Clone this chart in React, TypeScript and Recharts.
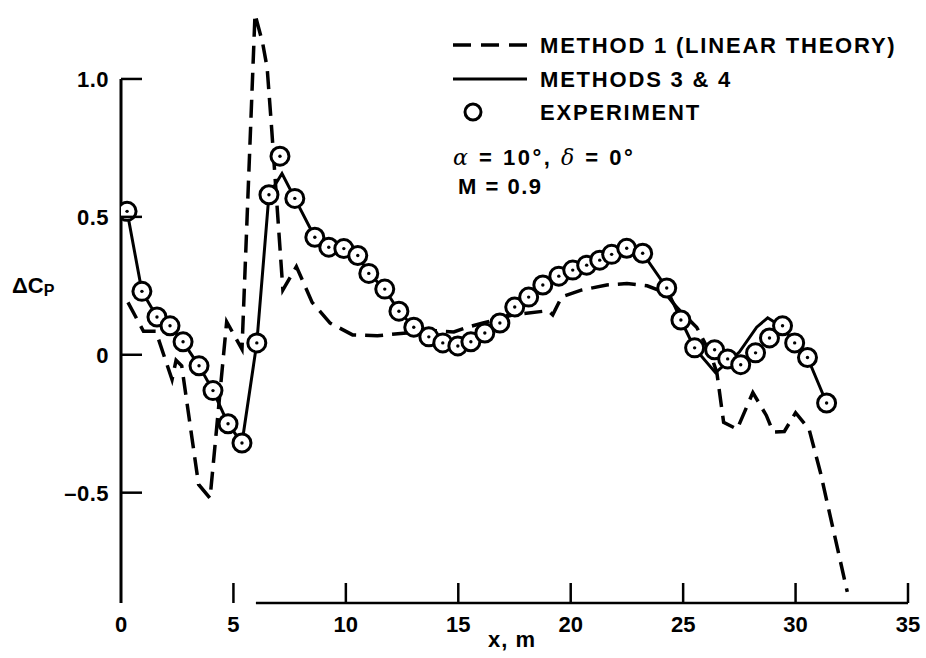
import { ComposedChart, Line, Scatter, XAxis, YAxis, ReferenceLine } from 'recharts';

// experiment (circles)
const expX = [0.27, 0.93, 1.6, 2.18, 2.76, 3.47, 4.09, 4.76, 5.38, 6.04, 6.58, 7.07, 7.73, 8.62, 9.24, 9.91, 10.53, 11.02, 11.73, 12.36, 13.02, 13.69, 14.31, 14.98, 15.56, 16.18, 16.85, 17.51, 18.13, 18.76, 19.47, 20.09, 20.71, 21.29, 21.82, 22.49, 23.2, 24.27, 24.9, 25.51, 26.4, 26.98, 27.56, 28.22, 28.84, 29.42, 29.96, 30.53, 31.38];
const expY = [0.52, 0.23, 0.137, 0.105, 0.047, -0.04, -0.13, -0.25, -0.32, 0.043, 0.58, 0.72, 0.567, 0.426, 0.39, 0.385, 0.36, 0.295, 0.238, 0.158, 0.1, 0.065, 0.043, 0.032, 0.047, 0.079, 0.115, 0.173, 0.209, 0.253, 0.285, 0.307, 0.325, 0.343, 0.364, 0.386, 0.368, 0.242, 0.126, 0.025, 0.018, -0.015, -0.036, 0.007, 0.061, 0.105, 0.043, -0.01, -0.175];

// methods 3 & 4 (solid)
const m34X = [0.27, 0.93, 1.6, 2.18, 2.76, 3.47, 4.09, 4.76, 5.38, 6.04, 6.58, 7.16, 7.73, 8.62, 9.24, 9.91, 10.53, 11.02, 11.73, 12.36, 13.02, 13.69, 14.31, 14.98, 15.56, 16.18, 16.85, 17.51, 18.13, 18.76, 19.47, 20.09, 20.71, 21.29, 21.82, 22.49, 23.2, 24.27, 24.9, 25.5, 26.44, 27.5, 28.27, 28.76, 29.42, 29.96, 30.53, 31.38];
const m34Y = [0.52, 0.23, 0.137, 0.105, 0.047, -0.04, -0.13, -0.25, -0.32, 0.043, 0.58, 0.657, 0.567, 0.426, 0.39, 0.385, 0.36, 0.295, 0.238, 0.158, 0.1, 0.065, 0.043, 0.032, 0.047, 0.079, 0.115, 0.173, 0.209, 0.253, 0.285, 0.307, 0.325, 0.343, 0.364, 0.386, 0.368, 0.242, 0.126, 0.025, -0.065, 0.01, 0.1, 0.134, 0.1, 0.043, -0.01, -0.175];

// method 1, linear theory (dashed)
const m1X = [0.31, 1.0, 1.55, 2.27, 2.45, 2.7, 3.45, 3.96, 4.7, 5.38, 5.96, 6.3, 6.5, 6.7, 7.2, 7.8, 8.5, 9.3, 10.3, 11.4, 12.7, 14.0, 14.8, 15.4, 16.1, 17.4, 19.0, 19.2, 19.6, 20.5, 21.6, 22.5, 23.4, 24.2, 24.7, 25.6, 26.2, 26.5, 26.8, 27.4, 28.1, 28.7, 29.0, 29.5, 30.0, 30.6, 31.1, 32.3];
const m1Y = [0.19, 0.085, 0.085, -0.09, -0.02, -0.04, -0.47, -0.52, 0.12, 0.02, 1.235, 1.13, 1.04, 0.82, 0.235, 0.32, 0.19, 0.115, 0.072, 0.069, 0.079, 0.087, 0.083, 0.1, 0.115, 0.144, 0.16, 0.145, 0.21, 0.235, 0.253, 0.258, 0.25, 0.225, 0.173, 0.1, 0.007, -0.065, -0.245, -0.27, -0.137, -0.22, -0.28, -0.278, -0.21, -0.27, -0.425, -0.86];

const xTicks = [0, 5, 10, 15, 20, 25, 30, 35];
const yTicks = [-0.5, 0, 0.5, 1.0];

const toPoints = (xs: number[], ys: number[]) => xs.map((x, i) => ({ x, y: ys[i] }));

const expData = toPoints(expX, expY);
const m34Data = toPoints(m34X, m34Y);
const m1Data = toPoints(m1X, m1Y);

const FONT = '"Liberation Sans", Arial, sans-serif';

const XTick = ({ x, y, payload }: any) => (
  <g>
    {payload.value !== 0 && <line x1={x} x2={x} y1={y} y2={y - 20} stroke="#000" strokeWidth={2.5} />}
    <text x={x} y={y + 29} textAnchor="middle" fontFamily={FONT} fontWeight="bold" fontSize={22} fill="#000">
      {payload.value}
    </text>
  </g>
);

const YTick = ({ x, y, payload }: any) => {
  const v = payload.value;
  const label = v === 0 ? '0' : v < 0 ? '\u2013' + Math.abs(v).toFixed(1) : v.toFixed(1);
  return (
    <g>
      <line x1={x} x2={x + 21} y1={y} y2={y} stroke="#000" strokeWidth={2.5} />
      <text x={x - 12} y={y + 8} textAnchor="end" fontFamily={FONT} fontWeight="bold" fontSize={22} letterSpacing={0.5} fill="#000">
        {label}
      </text>
    </g>
  );
};

const Ring = ({ cx, cy }: any) => (
  <g>
    <circle cx={cx} cy={cy} r={9} fill="#fff" stroke="#000" strokeWidth={3} />
    <circle cx={cx} cy={cy} r={1.7} fill="#000" />
  </g>
);

const textStyle = { fontFamily: FONT, fontWeight: 'bold' as const, fontSize: 22, letterSpacing: 1.8 };

const Overlay = () => (
  <svg width={926} height={658} style={{ position: 'absolute', left: 0, top: 0, pointerEvents: 'none' }}>
    {/* legend */}
    <line x1={453} x2={527} y1={45} y2={45} stroke="#000" strokeWidth={3.5} strokeDasharray="18 10" />
    <text x={540} y={53} {...textStyle}>METHOD 1 (LINEAR THEORY)</text>
    <line x1={453} x2={527} y1={79} y2={79} stroke="#000" strokeWidth={3} />
    <text x={540} y={87} {...textStyle}>METHODS 3 &amp; 4</text>
    <circle cx={473} cy={112} r={8} fill="#fff" stroke="#000" strokeWidth={3} />
    <text x={540} y={120} {...textStyle}>EXPERIMENT</text>
    <text x={453} y={165} {...textStyle} letterSpacing={2.5}>
      <tspan fontStyle="italic" fontWeight="normal" fontFamily='"DejaVu Serif", serif'>α</tspan> = 10°,{' '}
      <tspan fontStyle="italic" fontWeight="normal" fontFamily='"DejaVu Serif", serif'>δ</tspan> = 0°
    </text>
    <text x={458} y={194} {...textStyle} letterSpacing={1.5}>M = 0.9</text>
    {/* axis titles */}
    <text x={12} y={293} {...textStyle} letterSpacing={0}>
      ΔC<tspan fontSize={16} dy={3}>P</tspan>
    </text>
    <text x={512} y={647} textAnchor="middle" {...textStyle} letterSpacing={1}>x, m</text>
  </svg>
);

export default function App() {
  return (
    <div style={{ position: 'absolute', left: 0, top: 0, width: 926, height: 658, background: '#fff' }}>
      <ComposedChart width={926} height={658} margin={{ top: 10, right: 18, left: 61, bottom: 15 }}>
        <XAxis
          type="number"
          dataKey="x"
          domain={[0, 35]}
          ticks={xTicks}
          axisLine={false}
          tickLine={false}
          tickSize={0}
          tickMargin={0}
          height={40}
          tick={<XTick />}
          allowDataOverflow
        />
        <YAxis
          type="number"
          dataKey="y"
          domain={[-0.9, 1.25]}
          ticks={yTicks}
          axisLine={false}
          tickLine={false}
          tickSize={0}
          tickMargin={0}
          width={60}
          tick={<YTick />}
          allowDataOverflow
        />
        <ReferenceLine segment={[{ x: 0, y: -0.9 }, { x: 0, y: 1.0 }]} stroke="#000" strokeWidth={3} />
        <ReferenceLine segment={[{ x: 6, y: -0.9 }, { x: 35, y: -0.9 }]} stroke="#000" strokeWidth={2.5} />
        <Line
          data={m1Data}
          dataKey="y"
          type="linear"
          stroke="#000"
          strokeWidth={3.5}
          strokeDasharray="18 9"
          dot={false}
          activeDot={false}
          isAnimationActive={false}
        />
        <Line
          data={m34Data}
          dataKey="y"
          type="linear"
          stroke="#000"
          strokeWidth={3}
          dot={false}
          activeDot={false}
          isAnimationActive={false}
        />
        <Scatter data={expData} dataKey="y" shape={<Ring />} isAnimationActive={false} />
      </ComposedChart>
      <Overlay />
    </div>
  );
}
